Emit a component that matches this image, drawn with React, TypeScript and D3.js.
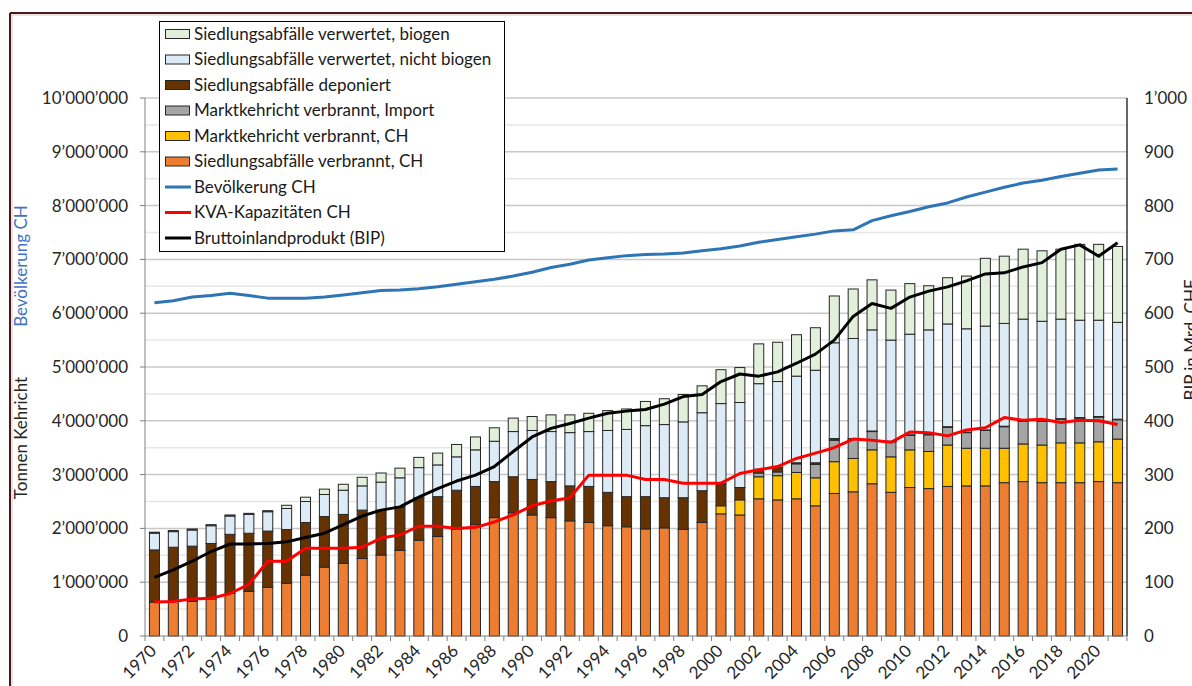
import React from 'react';
import * as d3 from 'd3';

// Categories
const years = [1970,1971,1972,1973,1974,1975,1976,1977,1978,1979,1980,1981,1982,1983,1984,1985,1986,1987,1988,1989,1990,1991,1992,1993,1994,1995,1996,1997,1998,1999,2000,2001,2002,2003,2004,2005,2006,2007,2008,2009,2010,2011,2012,2013,2014,2015,2016,2017,2018,2019,2020,2021];

// Stacked series (thousand tonnes)
const siedlungVerbranntCH = [630,645,645,690,790,830,905,980,1130,1280,1350,1440,1505,1590,1780,1850,1980,2070,2200,2290,2250,2200,2140,2110,2050,2030,1990,2010,1980,2110,2270,2250,2550,2530,2550,2420,2650,2680,2830,2670,2760,2740,2780,2790,2790,2850,2870,2850,2850,2850,2870,2850];
const marktVerbranntCH = [0,0,0,0,0,0,0,0,0,0,0,0,0,0,0,0,0,0,0,0,0,0,0,0,0,0,0,0,0,0,150,280,410,450,490,520,590,620,630,660,700,690,770,700,700,640,700,700,740,740,740,810];
const marktVerbranntImport = [0,0,0,0,0,0,0,0,0,0,0,0,0,0,0,0,0,0,0,0,0,0,0,0,0,0,0,0,0,0,0,0,70,70,160,250,400,360,340,280,270,310,330,290,330,400,420,440,440,460,460,360];
const siedlungDeponiert = [970,1005,1025,1030,1100,1080,1045,1000,980,940,910,900,835,810,790,740,730,710,670,670,660,670,650,670,620,560,600,560,590,590,410,230,70,80,20,30,30,10,10,10,10,10,10,10,10,10,10,10,10,10,10,10];
const verwertetNichtBiogen = [310,290,300,330,340,350,360,390,390,410,450,450,520,540,560,590,620,680,750,840,910,930,990,1020,1150,1250,1320,1360,1410,1450,1490,1580,1590,1600,1610,1720,1780,1860,1880,1880,1870,1940,1910,1920,1930,1910,1890,1850,1850,1810,1790,1800];
const verwertetBiogen = [20,20,20,20,20,20,20,60,80,100,110,160,170,180,190,220,230,240,250,250,260,310,330,340,370,380,450,480,510,500,630,650,740,730,770,790,870,920,930,930,940,820,860,980,1260,1250,1300,1310,1300,1410,1410,1410];

// Lines
const bevoelkerung = [6.195,6.23,6.30,6.33,6.37,6.33,6.28,6.28,6.28,6.30,6.34,6.38,6.42,6.43,6.455,6.49,6.54,6.585,6.63,6.69,6.76,6.85,6.91,6.99,7.03,7.07,7.09,7.10,7.12,7.16,7.20,7.25,7.32,7.37,7.42,7.47,7.53,7.55,7.72,7.81,7.89,7.98,8.05,8.16,8.25,8.34,8.42,8.47,8.54,8.60,8.66,8.68]; // millions
const kvaKapazitaet = [63,64,69,70,79,96,139,139,163,163,163,165,182,188,204,204,200,202,212,225,242,251,257,299,299,299,291,291,284,284,284,302,309,315,330,340,350,366,364,360,379,378,372,383,387,406,401,403,397,401,400,393];
const bip = [109,123,139,157,171,171,172,175,183,191,207,223,234,240,258,274,288,299,315,343,370,386,395,405,414,418,421,431,445,449,473,487,483,491,507,524,550,594,618,609,630,641,649,660,673,675,686,694,719,727,706,731];

const leftTicks = [0,1000000,2000000,3000000,4000000,5000000,6000000,7000000,8000000,9000000,10000000];
const rightTicks = [0,100,200,300,400,500,600,700,800,900,1000];

const seriesKeys = ['orange','yellow','gray','brown','blue','green'];
const seriesColors: Record<string,string> = {
  orange: '#ED7D31', yellow: '#FFC000', gray: '#A5A5A5', brown: '#663300', blue: '#DDEBF7', green: '#E2EFDA'
};

const legendItems = [
  { label: 'Siedlungsabfälle verwertet, biogen', type: 'rect', color: '#E2EFDA' },
  { label: 'Siedlungsabfälle verwertet, nicht biogen', type: 'rect', color: '#DDEBF7' },
  { label: 'Siedlungsabfälle deponiert', type: 'rect', color: '#663300' },
  { label: 'Marktkehricht verbrannt, Import', type: 'rect', color: '#A5A5A5' },
  { label: 'Marktkehricht verbrannt, CH', type: 'rect', color: '#FFC000' },
  { label: 'Siedlungsabfälle verbrannt, CH', type: 'rect', color: '#ED7D31' },
  { label: 'Bevölkerung CH', type: 'line', color: '#2E75B6' },
  { label: 'KVA-Kapazitäten CH', type: 'line', color: '#FF0000' },
  { label: 'Bruttoinlandprodukt (BIP)', type: 'line', color: '#000000' },
];

const FONT = 'Lato, "Open Sans", sans-serif';
const FS = 17;

export default function App() {
  const x = d3.scaleBand<number>().domain(years).range([145, 1127]).paddingInner(0.47).paddingOuter(0.235);
  const step = x.step();
  const y = d3.scaleLinear().domain([0, 10000000]).range([636, 98]);
  const y2 = d3.scaleLinear().domain([0, 1000]).range([636, 98]);
  const loc = d3.formatLocale({ decimal: '.', thousands: '\u2019', grouping: [3], currency: ['', ''] });
  const fmt = loc.format(',');

  const rows = years.map((yr, i) => ({
    year: yr,
    orange: siedlungVerbranntCH[i] * 1000,
    yellow: marktVerbranntCH[i] * 1000,
    gray: marktVerbranntImport[i] * 1000,
    brown: siedlungDeponiert[i] * 1000,
    blue: verwertetNichtBiogen[i] * 1000,
    green: verwertetBiogen[i] * 1000,
  }));
  const stacked = d3.stack<any>().keys(seriesKeys)(rows);
  const cx = (yr: number) => (x(yr) as number) + x.bandwidth() / 2;

  const popLine = d3.line<number>().x((_, i) => cx(years[i])).y(d => y(d * 1000000));
  const kvaLine = d3.line<number>().x((_, i) => cx(years[i])).y(d => y2(d));
  const bipLine = d3.line<number>().x((_, i) => cx(years[i])).y(d => y2(d));

  const gridVals = d3.range(0, 20).map(i => (i + 1) * 500000);

  return (
    <svg width={1192} height={686} style={{ position: 'absolute', left: 0, top: 0, background: '#fff' }} fontFamily={FONT}>
      <rect x={0} y={0} width={1192} height={686} fill="#fff" />
      {/* frame */}
      <line x1={10} y1={13} x2={1192} y2={13} stroke="#4a1818" strokeWidth={2} />
      <line x1={10} y1={15} x2={1192} y2={15} stroke="#d8c8c8" strokeWidth={1} />
      <line x1={10} y1={13} x2={10} y2={686} stroke="#4a1818" strokeWidth={2} />
      <line x1={12} y1={15} x2={12} y2={686} stroke="#d8c8c8" strokeWidth={1} />

      {/* gridlines */}
      {gridVals.map(v => (
        <line key={v} x1={145} x2={1127} y1={y(v)} y2={y(v)}
          stroke={v % 1000000 === 0 ? '#c8c8c8' : '#e6e6e6'} strokeWidth={1.5} />
      ))}

      {/* bars */}
      {stacked.map(s => (
        <g key={s.key} fill={seriesColors[s.key]}>
          {s.map((d, i) => (d[1] - d[0] > 0 ? (
            <rect key={i} x={x(years[i])} width={x.bandwidth()} y={y(d[1])} height={y(d[0]) - y(d[1])}
              stroke="#262626" strokeWidth={1} />
          ) : null))}
        </g>
      ))}

      {/* axes */}
      <line x1={145} x2={145} y1={98} y2={636} stroke="#808080" strokeWidth={1} />
      {leftTicks.map(t => (
        <g key={t}>
          <line x1={140} x2={145} y1={y(t)} y2={y(t)} stroke="#808080" />
          <text x={128} y={y(t)} dy="0.35em" textAnchor="end" fontSize={FS} fill="#262626">{fmt(t)}</text>
        </g>
      ))}
      <line x1={1127} x2={1127} y1={98} y2={636} stroke="#000" strokeWidth={1.2} />
      {rightTicks.map(t => (
        <text key={t} x={1144} y={y2(t)} dy="0.35em" textAnchor="start" fontSize={FS} fill="#262626">{fmt(t)}</text>
      ))}
      <line x1={145} x2={1127} y1={636} y2={636} stroke="#808080" strokeWidth={1} />
      {years.map((yr, i) => (
        <line key={yr} x1={145 + i * step} x2={145 + i * step} y1={636} y2={641} stroke="#808080" />
      ))}
      <line x1={1127} x2={1127} y1={636} y2={641} stroke="#808080" />
      {years.filter((_, i) => i % 2 === 0).map(yr => (
        <text key={yr} transform={`translate(${cx(yr) + 3},${652}) rotate(-45)`} textAnchor="end" fontSize={FS} fill="#262626">{yr}</text>
      ))}

      {/* axis titles */}
      <text transform="translate(27,438) rotate(-90)" textAnchor="middle" fontSize={FS} fill="#262626">Tonnen Kehricht</text>
      <text transform="translate(27,266) rotate(-90)" textAnchor="middle" fontSize={FS} fill="#4472C4">Bevölkerung CH</text>
      <text transform="translate(1197,340) rotate(-90)" textAnchor="middle" fontSize={FS} fill="#262626">BIP in Mrd. CHF</text>

      {/* lines */}
      <path d={popLine(bevoelkerung) || ''} fill="none" stroke="#2E75B6" strokeWidth={3} strokeLinejoin="round" />
      <path d={kvaLine(kvaKapazitaet) || ''} fill="none" stroke="#FF0000" strokeWidth={3} strokeLinejoin="round" />
      <path d={bipLine(bip) || ''} fill="none" stroke="#000" strokeWidth={3} strokeLinejoin="round" />

      {/* legend */}
      <rect x={159.5} y={21.5} width={345} height={230} fill="#fff" stroke="#000" strokeWidth={1} />
      {legendItems.map((it, i) => {
        const cy = 34 + i * 25.5;
        return (
          <g key={it.label}>
            {it.type === 'rect' ? (
              <rect x={165.5} y={cy - 4.5} width={24} height={9} fill={it.color} stroke="#262626" strokeWidth={1} />
            ) : (
              <line x1={165} x2={191} y1={cy} y2={cy} stroke={it.color} strokeWidth={3} />
            )}
            <text x={194} y={cy} dy="0.35em" fontSize={FS} fill="#1a1a1a">{it.label}</text>
          </g>
        );
      })}
    </svg>
  );
}
